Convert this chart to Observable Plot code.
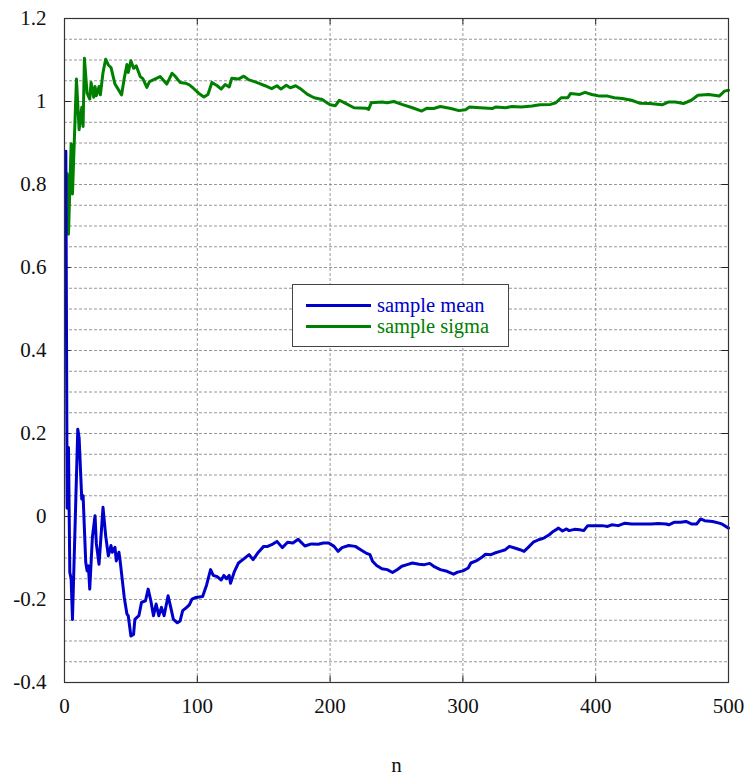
<!DOCTYPE html>
<html>
<head>
<meta charset="utf-8">
<script src="https://cdn.jsdelivr.net/npm/d3@7"></script>
<script src="https://cdn.jsdelivr.net/npm/@observablehq/plot@0.6"></script>
<style>
  html, body { margin: 0; padding: 0; background: #fff; }
  #wrap { position: relative; width: 746px; height: 778px; font-family: "Liberation Serif", "Times New Roman", serif; }
  #legend { position: absolute; left: 292px; top: 284px; width: 215px; height: 61px; border: 1.5px solid #444; background: #fff; box-sizing: content-box; }
  .lg-line { position: absolute; left: 13px; width: 65px; height: 0; border-top: 3px solid; }
  .lg-text { position: absolute; left: 84px; font-size: 20.5px; line-height: 18px; height: 18px; white-space: nowrap; }
</style>
</head>
<body>
<div id="wrap"></div>
<script>
// ---- data ----
const meanN = [1,2,3,4,5,6,10,11,13,14,16,17,18,19,21,23,24,26,27,29,31,33,35,36,38,39,41,42,45,47,48,50,52,53,56,58,61,63,65,67,69,71,73,75,78,80,82,85,87,89,92,94,96,99,
  104,107,110,112,115,118,120,122,124,125,128,131,135,139,142,146,150,153,156,160,164,168,172,176,181,186,191,195,199,203,206,209,214,219,223,227,230,232,235,239,243,247,251,254,258,262,267,271,275,278,283,288,293,296,300,
  304,306,310,314,317,321,324,328,332,335,339,343,346,349,353,357,361,365,368,372,375,378,380,384,388,391,394,400,405,409,412,417,422,427,432,437,442,447,453,455,459,464,468,472,476,479,482,488,493,495,500];
const meanV = [0.88,0.02,0.166,-0.135,-0.15,-0.248,0.21,0.19,0.042,0.05,-0.111,-0.131,-0.119,-0.175,-0.05,0.002,-0.066,-0.115,-0.07,0.022,-0.046,-0.095,-0.07,-0.086,-0.074,-0.107,-0.086,-0.11,-0.195,-0.235,-0.239,-0.288,-0.284,-0.248,-0.239,-0.207,-0.203,-0.175,-0.203,-0.239,-0.211,-0.239,-0.219,-0.239,-0.191,-0.219,-0.248,-0.256,-0.252,-0.227,-0.219,-0.213,-0.199,-0.195,
  -0.193,-0.165,-0.128,-0.142,-0.145,-0.153,-0.142,-0.15,-0.142,-0.161,-0.132,-0.112,-0.102,-0.092,-0.104,-0.086,-0.072,-0.072,-0.068,-0.06,-0.075,-0.062,-0.064,-0.055,-0.071,-0.066,-0.067,-0.064,-0.064,-0.072,-0.084,-0.075,-0.07,-0.072,-0.08,-0.088,-0.092,-0.108,-0.118,-0.126,-0.128,-0.135,-0.127,-0.12,-0.116,-0.112,-0.115,-0.116,-0.113,-0.12,-0.128,-0.132,-0.139,-0.134,-0.131,
  -0.124,-0.112,-0.107,-0.099,-0.091,-0.092,-0.088,-0.084,-0.08,-0.072,-0.076,-0.08,-0.084,-0.075,-0.062,-0.056,-0.052,-0.044,-0.036,-0.028,-0.035,-0.03,-0.034,-0.031,-0.032,-0.034,-0.022,-0.022,-0.022,-0.024,-0.02,-0.022,-0.016,-0.018,-0.018,-0.018,-0.018,-0.017,-0.018,-0.02,-0.014,-0.014,-0.012,-0.018,-0.018,-0.006,-0.01,-0.012,-0.016,-0.018,-0.028];

const sigmaN = [2,3,5,6,9,11,13,14,15,17,19,20,22,23,24,26,27,29,31,33,35,38,43,45,47,48,50,52,54,57,59,62,64,68,72,77,81,83,87,91,94,97,101,105,108,111,115,118,121,124,126,131,135,139,143,147,151,156,160,163,167,170,174,178,183,188,194,
  200,204,207,212,218,227,229,231,239,243,248,254,262,269,273,278,283,291,297,302,305,313,322,325,332,337,344,352,358,366,370,374,379,381,388,392,397,403,409,414,420,427,433,441,450,455,460,466,472,477,485,493,497,500];
const sigmaV = [0.826,0.68,0.898,0.777,1.054,0.932,0.986,0.94,1.104,1.02,1.006,1.046,1.01,1.036,1.014,1.036,1.016,1.07,1.102,1.088,1.082,1.042,1.016,1.056,1.089,1.07,1.098,1.08,1.086,1.06,1.055,1.034,1.048,1.054,1.06,1.042,1.068,1.062,1.046,1.044,1.04,1.032,1.02,1.011,1.017,1.046,1.038,1.03,1.041,1.035,1.056,1.054,1.061,1.052,1.048,1.043,1.038,1.031,1.038,1.03,1.039,1.033,1.038,1.03,1.017,1.009,1.005,
  0.992,0.99,1.003,0.995,0.985,0.984,0.981,0.997,0.999,0.997,1.0,0.993,0.985,0.977,0.984,0.983,0.988,0.983,0.978,0.98,0.987,0.985,0.983,0.987,0.985,0.988,0.987,0.989,0.992,0.993,0.997,1.009,1.009,1.019,1.017,1.022,1.017,1.013,1.013,1.009,1.007,1.003,0.996,0.995,0.992,0.999,0.999,0.995,1.003,1.015,1.017,1.013,1.025,1.027];

const seriesNames = ["sample mean", "sample sigma"];
const seriesColors = ["#0000cc", "#008000"];
const xTicks = [0, 100, 200, 300, 400, 500];
const yTicks = [-0.4, -0.2, 0, 0.2, 0.4, 0.6, 0.8, 1, 1.2];
const yGrid = d3.range(-0.35, 1.2, 0.05).map(d => +d.toFixed(2));
const xLabel = "n";

// ---- build tables ----
const meanData = meanN.map((n, i) => ({n, v: meanV[i]}));
const sigmaData = sigmaN.map((n, i) => ({n, v: sigmaV[i]}));

const fmt = d => String(+(+d).toFixed(1));
const serif = "Liberation Serif";

const chart = Plot.plot({
  width: 746,
  height: 778,
  marginLeft: 64,
  marginRight: 18,
  marginTop: 18,
  marginBottom: 96,
  style: {fontFamily: serif, fontSize: "21px", color: "#111", background: "#fff", overflow: "visible"},
  x: {domain: [0, 500]},
  y: {domain: [-0.4, 1.2]},
  marks: [
    Plot.ruleY(yGrid, {stroke: "#8a8a8a", strokeWidth: 0.9, strokeDasharray: "3,2"}),
    Plot.ruleX(xTicks.slice(1, -1), {stroke: "#8a8a8a", strokeWidth: 0.9, strokeDasharray: "3,2"}),
    Plot.ruleY(yTicks, {x1: 0, x2: 5, stroke: "#222", strokeWidth: 1}),
    Plot.ruleY(yTicks, {x1: 495, x2: 500, stroke: "#222", strokeWidth: 1}),
    Plot.ruleX(xTicks, {y1: -0.4, y2: -0.385, stroke: "#222", strokeWidth: 1}),
    Plot.ruleX(xTicks, {y1: 1.185, y2: 1.2, stroke: "#222", strokeWidth: 1}),
    Plot.line(sigmaData, {x: "n", y: "v", stroke: seriesColors[1], strokeWidth: 3, strokeLinejoin: "round"}),
    Plot.line(meanData, {x: "n", y: "v", stroke: seriesColors[0], strokeWidth: 3, strokeLinejoin: "round"}),
    Plot.frame({stroke: "#333", strokeWidth: 1.2}),
    Plot.axisY({ticks: yTicks, tickSize: 0, tickPadding: 18, tickFormat: fmt, label: null, fontSize: 21, fontFamily: serif, fill: "#111"}),
    Plot.axisX({ticks: xTicks, tickSize: 0, tickPadding: 16, tickFormat: fmt, label: xLabel, labelAnchor: "center", labelOffset: 89, labelArrow: "none", fontSize: 21, fontFamily: serif, fill: "#111"})
  ]
});

const wrap = document.getElementById("wrap");
wrap.appendChild(chart);

// legend (HTML, placed over the plot area like the original)
const legend = document.createElement("div");
legend.id = "legend";
seriesNames.forEach((name, i) => {
  const top = 20.5 + i * 21;
  const ln = document.createElement("div");
  ln.className = "lg-line";
  ln.style.top = (top - 1.5) + "px";
  ln.style.borderTopColor = seriesColors[i];
  const tx = document.createElement("div");
  tx.className = "lg-text";
  tx.style.top = (top - 10) + "px";
  tx.style.color = seriesColors[i];
  tx.textContent = name;
  legend.appendChild(ln);
  legend.appendChild(tx);
});
wrap.appendChild(legend);
</script>
</body>
</html>
